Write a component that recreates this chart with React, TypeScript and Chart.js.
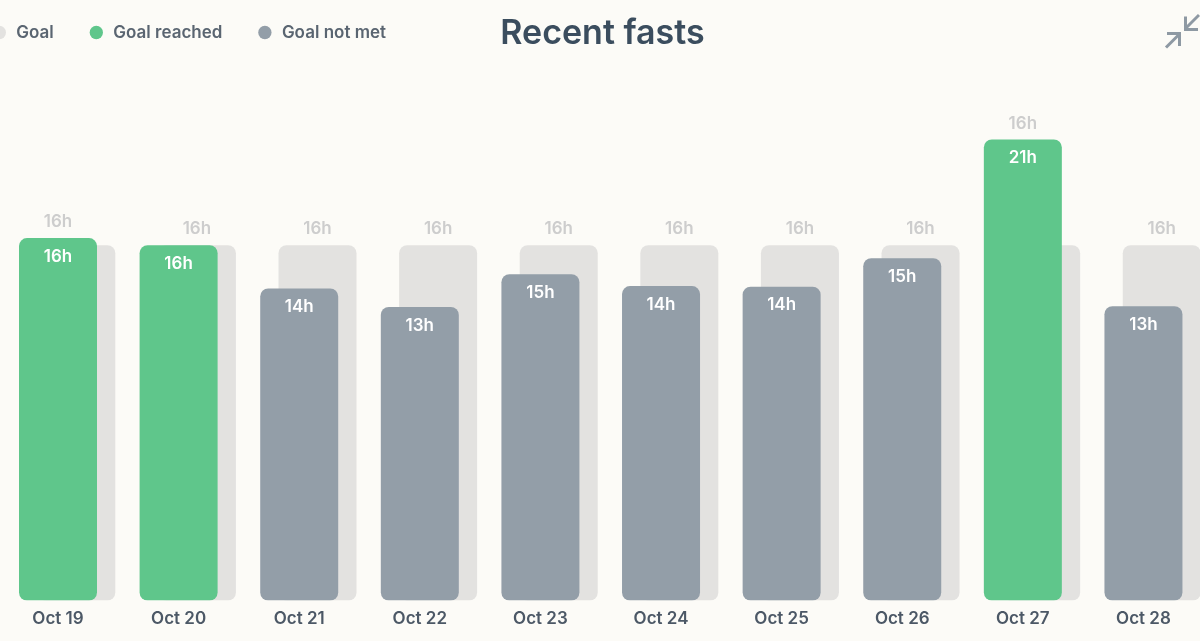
import React, { useEffect, useRef } from "react";
import { Chart, registerables } from "chart.js";

Chart.register(...registerables);

// ---- data ----
const categories = ["Oct 19", "Oct 20", "Oct 21", "Oct 22", "Oct 23", "Oct 24", "Oct 25", "Oct 26", "Oct 27", "Oct 28"];
const fastHours = [16.32, 16.0, 14.05, 13.22, 14.69, 14.16, 14.13, 15.41, 20.76, 13.25];
const goalHours = [16, 16, 16, 16, 16, 16, 16, 16, 16, 16];
const legendLabels = ["Goal", "Goal reached", "Goal not met"];
const titleText = "Recent fasts";

// ---- styles ----
const FONT = "Inter, 'Noto Sans', sans-serif";
const BG = "#FCFBF7";
const C_GOAL = "#E3E2E0";
const C_REACHED = "#5FC68B";
const C_NOTMET = "#939EA8";
const C_GOAL_LABEL = "#CDCDCD";
const C_TITLE = "#3B4D5E";
const C_TEXT = "#5A6571";
const C_TICK = "#4C5866";

const SHIFT = 60; // canvas starts left of viewport
const CW = 1290;
const CH = 641;

const fastColors = fastHours.map((v, i) => (v >= goalHours[i] ? C_REACHED : C_NOTMET));

const labelPlugin = {
  id: "barLabels",
  afterDatasetsDraw(chart: any) {
    const ctx = chart.ctx;
    const goalMeta = chart.getDatasetMeta(0);
    const fastMeta = chart.getDatasetMeta(1);
    ctx.save();
    ctx.textAlign = "center";
    ctx.textBaseline = "middle";
    ctx.font = `600 17px ${FONT}`;
    fastMeta.data.forEach((bar: any, i: number) => {
      const g = goalMeta.data[i];
      const fv = fastHours[i];
      const gv = goalHours[i];
      ctx.fillStyle = "#FFFFFF";
      ctx.fillText(`${Math.round(fv)}h`, bar.x, bar.y + 18.5);
      ctx.fillStyle = C_GOAL_LABEL;
      if (fv > gv) ctx.fillText(`${Math.round(gv)}h`, bar.x, bar.y - 16);
      else ctx.fillText(`${Math.round(gv)}h`, g.x, g.y - 16);
    });
    ctx.restore();
  },
};

const titlePlugin = {
  id: "topTitle",
  afterDraw(chart: any) {
    const ctx = chart.ctx;
    ctx.save();
    ctx.font = `600 34px ${FONT}`;
    ctx.fillStyle = C_TITLE;
    ctx.textAlign = "center";
    ctx.textBaseline = "alphabetic";
    ctx.fillText(titleText, 602.5 + SHIFT, 43.5);
    ctx.restore();
  },
};

export default function App() {
  const ref = useRef<HTMLCanvasElement | null>(null);

  useEffect(() => {
    document.body.style.background = BG;
    const chart = new Chart(ref.current as HTMLCanvasElement, {
      type: "bar",
      data: {
        labels: categories,
        datasets: [
          {
            label: legendLabels[0],
            data: goalHours,
            backgroundColor: C_GOAL,
            borderRadius: 8,
            borderSkipped: false,
            order: 2,
          },
          {
            label: "Fast",
            data: fastHours,
            backgroundColor: fastColors,
            borderRadius: 8,
            borderSkipped: false,
            order: 1,
          },
        ],
      },
      options: {
        responsive: false,
        animation: false,
        devicePixelRatio: 1,
        datasets: {
          bar: {
            categoryPercentage: 0.3035,
            barPercentage: 4.262,
          },
        },
        layout: {
          padding: { top: -10, left: 16.85, right: 17.1, bottom: 4 },
        },
        plugins: {
          tooltip: { enabled: false },
          title: { display: false },
          legend: {
            display: true,
            position: "top",
            align: "start",
            onClick: () => {},
            labels: {
              usePointStyle: true,
              pointStyle: "circle",
              boxWidth: 17,
              boxHeight: 9.4,
              padding: 34,
              color: C_TEXT,
              font: { family: FONT, size: 17, weight: "600" },
              generateLabels: () => [
                { text: legendLabels[0], fillStyle: C_GOAL, strokeStyle: C_GOAL, lineWidth: 0, pointStyle: "circle", hidden: false, fontColor: C_TEXT },
                { text: legendLabels[1], fillStyle: C_REACHED, strokeStyle: C_REACHED, lineWidth: 0, pointStyle: "circle", hidden: false, fontColor: C_TEXT },
                { text: legendLabels[2], fillStyle: C_NOTMET, strokeStyle: C_NOTMET, lineWidth: 0, pointStyle: "circle", hidden: false, fontColor: C_TEXT },
              ],
            },
          },
        },
        scales: {
          x: {
            grid: { display: false, drawTicks: false },
            border: { display: false },
            ticks: {
              color: C_TICK,
              font: { family: FONT, size: 17, weight: "600" },
              padding: 8,
              labelOffset: -9.15,
            },
          },
          y: {
            min: 0,
            max: 24.74,
            grid: { display: false, drawTicks: false },
            border: { display: false },
            ticks: { display: false },
            afterFit: (axis: any) => {
              axis.width = 50;
            },
          },
        },
      },
      plugins: [labelPlugin, titlePlugin],
    } as any);
    return () => chart.destroy();
  }, []);

  return (
    <div style={{ position: "fixed", left: 0, top: 0, width: 1200, height: 641, overflow: "hidden", background: BG }}>
      <div style={{ position: "absolute", left: -SHIFT, top: 0, width: CW, height: CH }}>
        <canvas ref={ref} width={CW} height={CH} style={{ display: "block", width: CW, height: CH }} />
      </div>
      <svg
        style={{ position: "absolute", left: 1160, top: 10, width: 40, height: 42 }}
        viewBox="1160 10 40 42"
        fill="none"
        stroke="#8E99A3"
        strokeWidth={3}
        strokeLinecap="butt"
      >
        <path d="M1199 15 L1186 28" />
        <path d="M1185.5 16.5 L1185.5 29.5 L1198 29.5" />
        <path d="M1166 47.5 L1178.5 35" />
        <path d="M1167 33.5 L1179.5 33.5 L1179.5 46" />
      </svg>
    </div>
  );
}
